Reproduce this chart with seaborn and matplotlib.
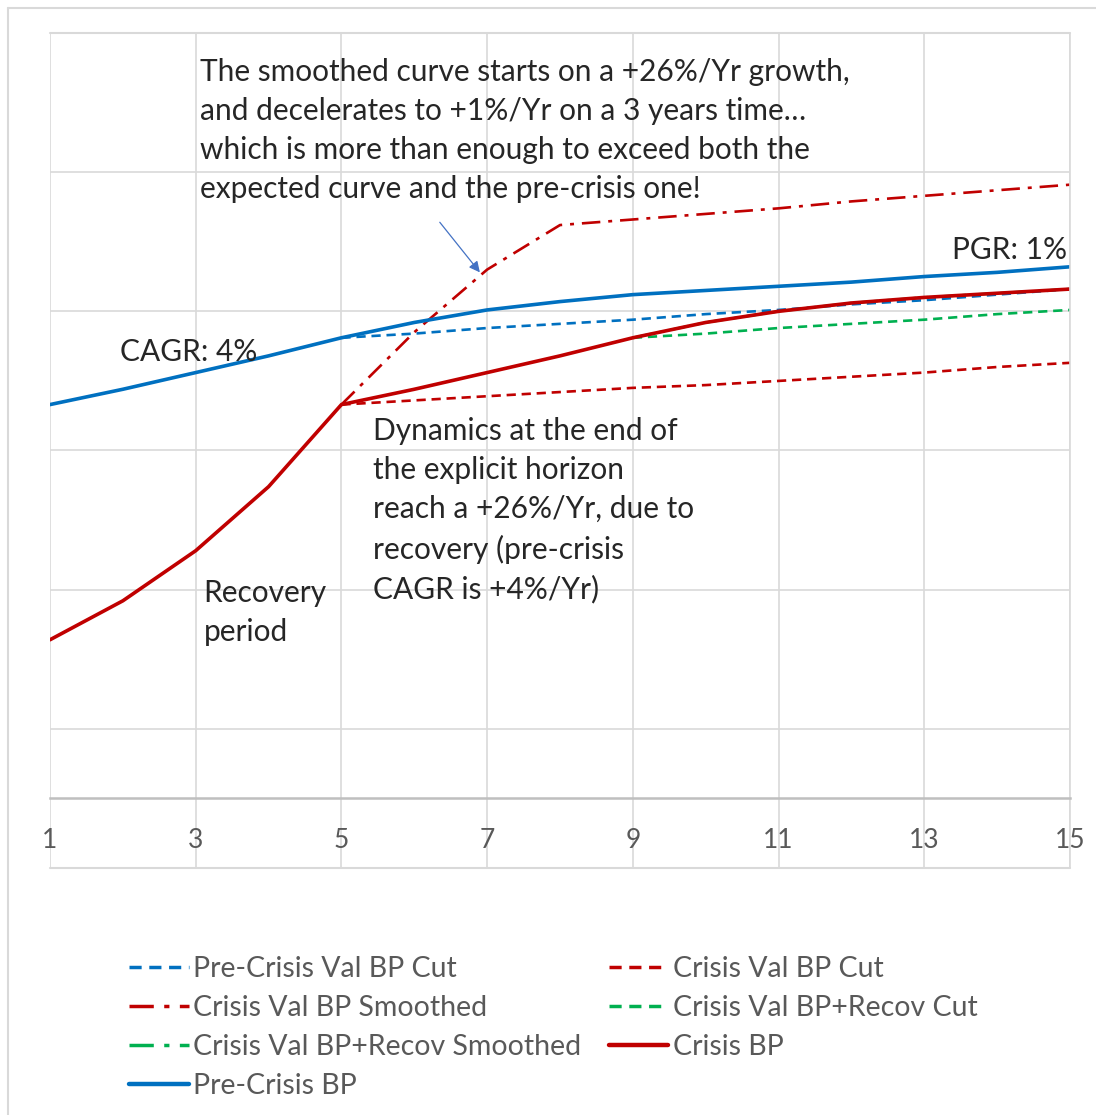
import matplotlib
matplotlib.use("Agg")
import matplotlib.pyplot as plt
from matplotlib.lines import Line2D
import seaborn as sns
import pandas as pd

# values (arbitrary units, axis crosses at 0)
years = list(range(1, 16))
pre_crisis_bp = [283, 294, 306, 318, 331, 342, 351, 357, 362, 365, 368, 371, 375, 378, 382]
crisis_bp = [114, 142, 178, 224, 283, 294, 306, 318, 331, 342, 350, 356, 360, 363, 366]

cut_years = list(range(5, 16))
pre_crisis_val_cut = [331, 334, 338, 341, 344, 348, 351, 355, 358, 362, 366]
crisis_val_cut = [283, 286, 289, 292, 295, 297, 300, 303, 306, 310, 313]
crisis_val_smoothed = [283, 335, 380, 412, 416, 420, 424, 429, 433, 437, 441]

recov_years = list(range(9, 16))
recov_cut = [331, 334, 338, 341, 344, 348, 351]
recov_smoothed = [331, 342, 350, 356, 360, 363, 366]

BLUE = "#0070C0"
RED = "#C00000"
GREEN = "#00B050"
GRID = "#D9D9D9"
TEXT = "#262626"
GRAY = "#595959"

sns.set_theme(style="white")
plt.rcParams["font.family"] = ["Lato", "DejaVu Sans"]

fig = plt.figure(figsize=(10.96, 11.15), dpi=100)
ax = fig.add_axes([50 / 1096, 1 - 868 / 1115, 1020 / 1096, 835 / 1115])

dashdot = (0, (7, 3, 1.5, 3))
dashed = (0, (3.5, 2.2))

series = [
    ("Pre-Crisis Val BP Cut", cut_years, pre_crisis_val_cut, BLUE, dashed, 1.9),
    ("Crisis Val BP Cut", cut_years, crisis_val_cut, RED, dashed, 1.9),
    ("Crisis Val BP Smoothed", cut_years, crisis_val_smoothed, RED, dashdot, 1.9),
    ("Crisis Val BP+Recov Cut", recov_years, recov_cut, GREEN, dashed, 1.9),
    ("Crisis Val BP+Recov Smoothed", recov_years, recov_smoothed, GREEN, dashdot, 1.9),
    ("Crisis BP", years, crisis_bp, RED, "-", 2.6),
    ("Pre-Crisis BP", years, pre_crisis_bp, BLUE, "-", 2.6),
]

handles = {}
for name, xs, ys, col, ls, lw in series:
    df = pd.DataFrame({"x": xs, "y": ys})
    sns.lineplot(data=df, x="x", y="y", ax=ax, color=col, linestyle=ls, linewidth=lw)
    handles[name] = Line2D([], [], color=col, linestyle=ls, linewidth=lw + 0.6)

ax.set_xlim(1, 15)
ax.set_ylim(-50, 550)
ax.set_xticks(range(1, 16, 2))
ax.set_yticks(range(-50, 551, 100))
ax.grid(True, color=GRID, linewidth=1.2)
ax.set_axisbelow(True)
ax.set_xlabel("")
ax.set_ylabel("")
ax.tick_params(axis="y", labelleft=False, length=0)
ax.tick_params(axis="x", length=0, pad=21, labelsize=19, labelcolor=GRAY)
for side in ["left", "right", "top"]:
    ax.spines[side].set_visible(False)
ax.spines["bottom"].set_position(("data", 0))
ax.spines["bottom"].set_color("#BFBFBF")
ax.spines["bottom"].set_linewidth(1.8)
ax.axhline(-50, color=GRID, linewidth=1.5, clip_on=False)
ax.axhline(550, color=GRID, linewidth=1.5, clip_on=False)
ax.axvline(15, color=GRID, linewidth=1.2, clip_on=False)

txt = dict(color=TEXT, fontsize=21.5, linespacing=1.48)
ax.text(3.06, 532,
        "The smoothed curve starts on a +26%/Yr growth,\n"
        "and decelerates to +1%/Yr on a 3 years time…\n"
        "which is more than enough to exceed both the\n"
        "expected curve and the pre-crisis one!",
        ha="left", va="top", **txt)
ax.text(14.96, 394, "PGR: 1%", ha="right", va="center", **txt)
ax.text(1.96, 321, "CAGR: 4%", ha="left", va="center", **txt)
ax.text(5.43, 274,
        "Dynamics at the end of\n"
        "the explicit horizon\n"
        "reach a +26%/Yr, due to\n"
        "recovery (pre-crisis\n"
        "CAGR is +4%/Yr)",
        ha="left", va="top", **txt)
ax.text(3.11, 158, "Recovery\nperiod", ha="left", va="top", **txt)

ax.annotate("", xy=(6.9, 378), xytext=(6.35, 414),
            arrowprops=dict(arrowstyle="-|>", color="#4472C4", lw=0.9,
                            mutation_scale=16, shrinkA=0, shrinkB=0))

order = ["Pre-Crisis Val BP Cut", "Crisis Val BP Smoothed",
         "Crisis Val BP+Recov Smoothed", "Pre-Crisis BP",
         "Crisis Val BP Cut", "Crisis Val BP+Recov Cut", "Crisis BP"]
leg = fig.legend([handles[n] for n in order], order, ncol=2,
                 loc="upper left", bbox_to_anchor=(118 / 1096, 1 - 945 / 1115),
                 frameon=False, fontsize=20.5, handlelength=2.1, handletextpad=0.15,
                 labelspacing=0.45, columnspacing=0.95, borderaxespad=0)
for t in leg.get_texts():
    t.set_color(GRAY)

# outer chart frame
fig.add_artist(Line2D([8 / 1096, 8 / 1096], [0, 1 - 8 / 1115], color=GRID, lw=1.5,
                      transform=fig.transFigure))
fig.add_artist(Line2D([8 / 1096, 1], [1 - 8 / 1115, 1 - 8 / 1115], color=GRID, lw=1.5,
                      transform=fig.transFigure))

fig.savefig("out.png", dpi=100, facecolor="white")
